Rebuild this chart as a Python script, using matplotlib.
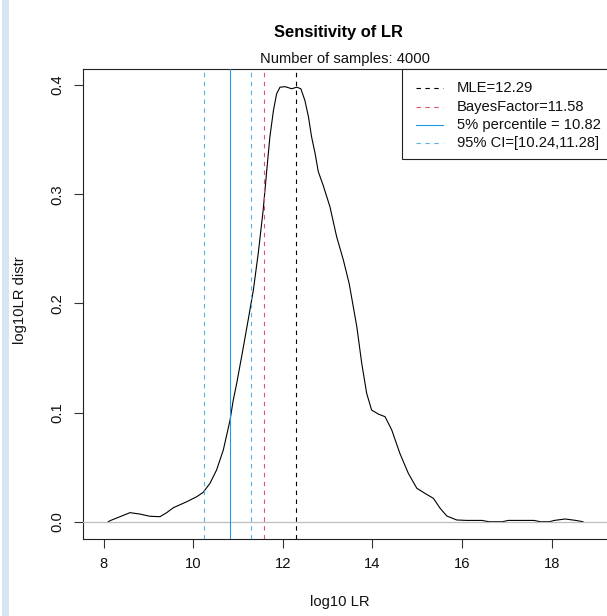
import matplotlib
matplotlib.use("Agg")
import matplotlib.pyplot as plt
from matplotlib.patches import Rectangle
from matplotlib.lines import Line2D

plt.rcParams['font.family'] = ['Liberation Sans', 'DejaVu Sans']

# ---- data ----
curve_x = [8.10, 8.163, 8.364, 8.587, 8.81, 9.03, 9.257, 9.406, 9.554, 9.853, 10.076,
           10.22, 10.373, 10.52, 10.67, 10.82, 10.89, 10.97, 11.10, 11.23, 11.34, 11.45,
           11.56, 11.64, 11.71, 11.79, 11.86, 11.935, 12.05, 12.196, 12.31, 12.40, 12.49,
           12.57, 12.64, 12.72, 12.79, 12.90, 13.05, 13.20, 13.35, 13.48, 13.65, 13.76,
           13.87, 13.98, 14.13, 14.28, 14.43, 14.61, 14.80, 14.99, 15.17, 15.36, 15.51,
           15.66, 15.88, 16.10, 16.44, 16.60, 16.90, 17.03, 17.60, 17.75, 17.95, 18.06,
           18.30, 18.54, 18.70]
curve_y = [0.0, 0.0013, 0.0046, 0.0083, 0.0070, 0.0050, 0.0046, 0.0083, 0.0128, 0.0183,
           0.0229, 0.0269, 0.0352, 0.0474, 0.0657, 0.093, 0.111, 0.127, 0.156, 0.186,
           0.212, 0.246, 0.2855, 0.322, 0.3526, 0.377, 0.392, 0.398, 0.3985, 0.3966,
           0.398, 0.3966, 0.386, 0.371, 0.3526, 0.337, 0.3206, 0.308, 0.2885, 0.261,
           0.2397, 0.218, 0.1786, 0.145, 0.1176, 0.1023, 0.0986, 0.0962, 0.084, 0.0627,
           0.0443, 0.0306, 0.026, 0.0214, 0.0123, 0.0052, 0.0016, 0.0012, 0.0012, 0.0,
           0.0, 0.0012, 0.0012, 0.0, 0.0, 0.0012, 0.0025, 0.0012, 0.0]

mle = 12.29
bayes_factor = 11.58
pct5 = 10.82
ci = [10.24, 11.28]
n_samples = 4000

x_ticks = [8, 10, 12, 14, 16, 18]
y_ticks = [0.0, 0.1, 0.2, 0.3, 0.4]
y_tick_labels = ["0.0", "0.1", "0.2", "0.3", "0.4"]

legend_labels = [f"MLE={mle}", f"BayesFactor={bayes_factor}",
                 f"5% percentile = {pct5}", f"95% CI=[{ci[0]},{ci[1]}]"]

# ---- figure ----
W, H = 607, 616
fig = plt.figure(figsize=(W / 100, H / 100), dpi=100)
fig.patch.set_facecolor('white')

def fx(px):
    return px / W

def fy(py):
    return 1 - py / H

ax_l, ax_r, ax_t, ax_b = 83.0, 641.3, 69.3, 539.3
ax = fig.add_axes([fx(ax_l), fy(ax_b), (ax_r - ax_l) / W, (ax_b - ax_t) / H])
ax.set_xlim(7.538, 20.0)
ax.set_ylim(-0.0161, 0.4144)

FS = 10.6
lw = 0.8

black = '#000000'
red = '#DF536B'
blue = '#2297E6'
lblue = '#56B4E9'

ax.plot(curve_x, curve_y, color=black, lw=lw, zorder=2)
ax.axhline(0, color='#BEBEBE', lw=0.9, zorder=3)

dash = (0, (4, 4))
ax.axvline(mle, color=black, lw=lw, ls=dash, zorder=4)
ax.axvline(bayes_factor, color=red, lw=lw, ls=dash, zorder=4)
ax.axvline(pct5, color=blue, lw=lw, ls='-', zorder=4)
for c in ci:
    ax.axvline(c, color=lblue, lw=lw, ls=dash, zorder=4)

for s in ax.spines.values():
    s.set_linewidth(lw)
    s.set_color('#222222')

ax.set_xticks(x_ticks)
ax.set_xticklabels([str(t) for t in x_ticks])
ax.set_yticks(y_ticks)
ax.set_yticklabels(y_tick_labels, rotation=90, va='center')
ax.tick_params(axis='both', direction='out', length=6.5, width=lw, color='#333333',
               labelsize=FS, labelcolor='#111111')
ax.tick_params(axis='x', pad=6)
ax.tick_params(axis='y', pad=7)

# legend (manual, like R's legend box)
fig.add_artist(Rectangle((fx(402), fy(159)), fx(660) - fx(402), fy(69.3) - fy(159),
                         transform=fig.transFigure, facecolor='white',
                         edgecolor='#222222', lw=lw, zorder=6))
leg_colors = [black, red, blue, lblue]
leg_styles = [dash, dash, '-', dash]
rows = [88.3, 106.6, 124.9, 143.2]
for lab, col, st, ry in zip(legend_labels, leg_colors, leg_styles, rows):
    fig.add_artist(Line2D([fx(416), fx(443)], [fy(ry), fy(ry)],
                          transform=fig.transFigure, color=col, lw=lw, ls=st,
                          zorder=7))
    fig.text(fx(457), fy(ry), lab, fontsize=FS, ha='left', va='center', zorder=7,
             color='#111111')

fig.text(fx(338), fy(33), "Sensitivity of LR", fontsize=11.9, fontweight='bold',
         ha='center', va='center')
fig.text(fx(345), fy(59), f"Number of samples: {n_samples}", fontsize=FS,
         ha='center', va='center', color='#111111')
fig.text(fx(340), fy(602), "log10 LR", fontsize=FS, ha='center', va='center',
         color='#111111')
fig.text(fx(20), fy(300), "log10LR distr", fontsize=FS, ha='center', va='center',
         rotation=90, color='#111111')

# left light-blue strip
fig.add_artist(Rectangle((fx(2), 0), fx(7), 1, transform=fig.transFigure,
                         facecolor='#D8E5F2', edgecolor='none'))

fig.savefig("out.png", dpi=100)
